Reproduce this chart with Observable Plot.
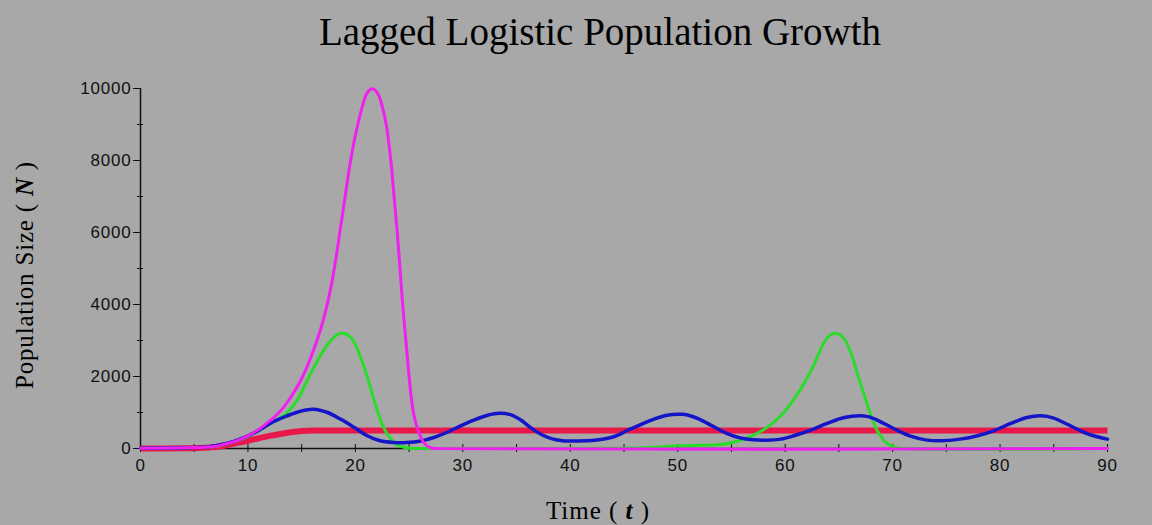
<!DOCTYPE html>
<html><head><meta charset="utf-8">
<script src="https://cdn.jsdelivr.net/npm/d3@7"></script>
<script src="https://cdn.jsdelivr.net/npm/@observablehq/plot@0.6"></script>
<style>
html,body{margin:0;padding:0;background:#a8a8a8;}
#chart{width:1152px;height:525px;overflow:hidden;}
</style></head><body><div id="chart"></div>
<script>
// Time (t) and population (N) readings for each series
const tRed = [0,2,4,5,6,7,8,9,10,11,12,13,14,15,16,17,90];
const nRed = [0,2,5,10,20,40,90,155,215,285,350,405,450,485,500,500,500];

const tMagenta = [0,3,5,6,7,8,9,10,11,12,12.9,14,15.1,16,16.7,17.3,17.8,18.2,18.6,19.0,19.5,20.0,20.6,21.1,21.6,22.1,22.5,22.9,23.3,23.6,23.9,24.15,24.4,24.7,25.0,25.4,25.9,26.4,27,28,90];
const nMagenta = [10,15,25,38,62,130,220,350,530,760,1000,1430,2000,2650,3250,3900,4600,5300,6100,6900,7900,8700,9450,9880,9990,9850,9500,8950,8000,7000,6000,5000,4000,3000,2000,1000,450,150,20,0,0];

const tGreen = [0,3,5,6,7,8,9,10,11,12,13,13.65,14.5,15.7,16.5,17.2,17.8,18.3,18.8,19.3,19.9,20.5,21.1,21.6,22.1,22.6,23.2,23.8,24.5,25.2,27,35,42,46,48,50,52,53.5,55,56.8,58.3,59.9,61.4,62.5,63.6,64.2,64.7,65.2,65.6,66.2,66.8,67.4,67.9,68.6,69.5,70.3,71,90];
const nGreen = [10,15,25,37,60,125,210,330,490,670,860,1000,1300,2000,2450,2800,3030,3160,3200,3150,2950,2520,2000,1480,1000,600,300,120,35,5,0,0,5,15,35,75,88,100,160,340,580,1010,1630,2210,2930,3150,3200,3140,3000,2600,2000,1450,1000,480,144,30,0,0];

const tBlue = [0,3,5,6.2,7.45,8.7,9.9,11.2,12.4,13.65,14.9,16.1,17.4,18.6,19.9,21.1,22.3,23.6,24.8,26.1,27.3,28.5,29.8,31.0,32.3,33.4,34.5,35.4,36.3,37.5,38.4,39.3,40.5,41.5,42.5,43.6,44.5,45.3,46.5,47.8,49.0,50.35,51.0,52.0,53.2,54.5,55.8,57.0,58.3,59.6,60.8,62.4,63.9,65.5,67.0,67.9,69.2,70.4,71.6,73.2,74.5,76.3,77.9,79.4,81.0,82.5,83.8,85.0,86.2,87.5,88.7,90.0];
const nBlue = [10,15,25,42,103,200,335,540,750,908,1036,1090,1000,817,583,353,214,167,167,210,306,444,630,787,925,980,935,790,580,360,260,218,208,212,235,290,380,500,658,817,925,950,925,817,630,430,295,240,228,260,353,510,695,860,908,870,695,510,353,233,214,260,353,492,695,860,908,845,680,492,353,260];

const xMajor = [0,10,20,30,40,50,60,70,80,90];
const xMinor = [5,15,25,35,45,55,65,75,85];
const yMajor = [0,2000,4000,6000,8000,10000];
const yMinor = [1000,3000,5000,7000,9000];

const titleText = "Lagged Logistic Population Growth";
const xLabelParts = ["Time ( ", "t", " )"];
const yLabelParts = ["Population Size ( ", "N", " )"];

const series = (ts, ns) => ts.map((t, i) => ({t, n: ns[i]}));
const red = series(tRed, nRed);
const magenta = series(tMagenta, nMagenta);
const green = series(tGreen, nGreen);
const blue = series(tBlue, nBlue);

const chart = Plot.plot({
  width: 1152, height: 525,
  marginLeft: 140, marginRight: 45, marginTop: 88, marginBottom: 77,
  style: {background: "#a8a8a8", color: "#111", fontFamily: "'Liberation Sans', Arial, sans-serif", fontSize: "17px", overflow: "visible"},
  x: {domain: [0, 90], axis: null},
  y: {domain: [0, 10000], axis: null},
  marks: [
    Plot.ruleX([0], {stroke: "#111", strokeWidth: 1.5}),
    Plot.ruleY([0], {stroke: "#111", strokeWidth: 1.5}),
    Plot.axisY({ticks: yMajor, tickSize: 7, tickPadding: 2, tickFormat: d => String(d), label: null, fontSize: 17}),
    Plot.axisY({ticks: yMinor, tickSize: 6, dx: 3, tickFormat: () => "", label: null}),
    Plot.axisX({ticks: xMajor.concat(xMinor), tickSize: 8, dy: -4, tickFormat: () => "", label: null}),
    Plot.axisX({ticks: xMajor, tickSize: 0, tickPadding: 10, tickFormat: d => String(d), label: null, fontSize: 17}),
    Plot.line(red, {x: "t", y: "n", stroke: "#e8184a", strokeWidth: 6, curve: "catmull-rom", strokeLinecap: "butt"}),
    Plot.line(green, {x: "t", y: "n", stroke: "#2adc2a", strokeWidth: 3, curve: "catmull-rom"}),
    Plot.line(blue, {x: "t", y: "n", stroke: "#1414c8", strokeWidth: 3.5, curve: "catmull-rom"}),
    Plot.line(magenta, {x: "t", y: "n", stroke: "#f020f0", strokeWidth: 3, curve: "catmull-rom"})
  ]
});

const svg = d3.select(chart);
svg.selectAll("g[aria-label='y-axis tick label'] text, g[aria-label='x-axis tick label'] text").attr("letter-spacing", "0.8px");
const serif = "'Liberation Serif', 'Times New Roman', serif";
svg.append("text")
  .attr("x", 600).attr("y", 45)
  .attr("text-anchor", "middle")
  .attr("font-family", serif).attr("font-size", 39).attr("fill", "#000")
  .text(titleText);

const xl = svg.append("text")
  .attr("x", 598).attr("y", 519)
  .attr("text-anchor", "middle")
  .attr("font-family", serif).attr("font-size", 25).attr("fill", "#000")
  .attr("letter-spacing", "1px")
  .style("white-space", "pre");
xl.append("tspan").text(xLabelParts[0]);
xl.append("tspan").attr("font-style", "italic").attr("font-weight", "bold").text(xLabelParts[1]);
xl.append("tspan").text(xLabelParts[2]);

const yl = svg.append("text")
  .attr("transform", "translate(33,275) rotate(-90)")
  .attr("text-anchor", "middle")
  .attr("font-family", serif).attr("font-size", 25).attr("fill", "#000")
  .attr("letter-spacing", "0.8px")
  .style("white-space", "pre");
yl.append("tspan").text(yLabelParts[0]);
yl.append("tspan").attr("font-style", "italic").attr("font-weight", "bold").text(yLabelParts[1]);
yl.append("tspan").text(yLabelParts[2]);

document.getElementById("chart").appendChild(chart);
</script></body></html>
